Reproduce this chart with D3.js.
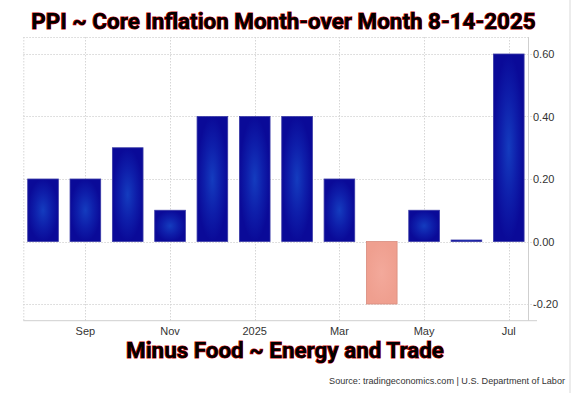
<!DOCTYPE html>
<html>
<head>
<meta charset="utf-8">
<script src="https://cdn.jsdelivr.net/npm/d3@7"></script>
<style>
  html, body { margin: 0; padding: 0; background: #fff; }
  svg { display: block; }
</style>
</head>
<body>
<div id="chart"></div>
<script>
const months = ["2024-08", "2024-09", "2024-10", "2024-11", "2024-12", "2025-01",
  "2025-02", "2025-03", "2025-04", "2025-05", "2025-06", "2025-07"];
const values = [0.2, 0.2, 0.3, 0.1, 0.4, 0.4, 0.4, 0.2, -0.2, 0.1, 0.0, 0.6];
const tickMonths = ["2024-09", "2024-11", "2025-01", "2025-03", "2025-05", "2025-07"];
const tickLabels = ["Sep", "Nov", "2025", "Mar", "May", "Jul"];
const yTicks = [-0.2, 0, 0.2, 0.4, 0.6];

const W = 577, H = 393;
const plot = { left: 23.3, right: 528.5, top: 37, bottom: 320.7 };

const data = months.map((m, i) => ({ month: m, value: values[i] }));

const svg = d3.select("#chart").append("svg")
  .attr("width", W)
  .attr("height", H);

const defs = svg.append("defs");

const blueGrad = defs.append("radialGradient")
  .attr("id", "blueGrad")
  .attr("cx", "50%").attr("cy", "50%").attr("r", "50%");
blueGrad.append("stop").attr("offset", "0%").attr("stop-color", "#143cbf");
blueGrad.append("stop").attr("offset", "55%").attr("stop-color", "#0e1eaa");
blueGrad.append("stop").attr("offset", "100%").attr("stop-color", "#0a0a98");

const redGrad = defs.append("radialGradient")
  .attr("id", "redGrad")
  .attr("cx", "50%").attr("cy", "50%").attr("r", "50%");
redGrad.append("stop").attr("offset", "0%").attr("stop-color", "#f3a99b");
redGrad.append("stop").attr("offset", "100%").attr("stop-color", "#ef9f8f");

const x = d3.scaleBand()
  .domain(months)
  .range([plot.left, plot.right])
  .paddingInner(0.276)
  .paddingOuter(0.104);

const y = d3.scaleLinear()
  .domain([-0.2, 0.6])
  .range([304, 54]);

// right edge strip
svg.append("rect")
  .attr("x", 569).attr("y", 0)
  .attr("width", 2).attr("height", H)
  .attr("fill", "#ececec");

// horizontal grid (runs a little past the right border, like ticks)
svg.append("g")
  .selectAll("line")
  .data(yTicks)
  .join("line")
  .attr("x1", plot.left)
  .attr("x2", 537)
  .attr("y1", d => Math.round(y(d)) + 0.5)
  .attr("y2", d => Math.round(y(d)) + 0.5)
  .attr("stroke", "#d6d6d6")
  .attr("stroke-dasharray", "1.5,1.5");

// vertical grid
svg.append("g")
  .selectAll("line")
  .data(tickMonths)
  .join("line")
  .attr("x1", d => Math.round(x(d) + x.bandwidth() / 2) + 0.5)
  .attr("x2", d => Math.round(x(d) + x.bandwidth() / 2) + 0.5)
  .attr("y1", plot.top)
  .attr("y2", plot.bottom)
  .attr("stroke", "#d6d6d6")
  .attr("stroke-dasharray", "1.5,1.5");

// frame
svg.append("line")
  .attr("x1", plot.left).attr("x2", plot.right)
  .attr("y1", plot.top + 0.5).attr("y2", plot.top + 0.5)
  .attr("stroke", "#d6d6d6").attr("stroke-dasharray", "1.5,1.5");
svg.append("line")
  .attr("x1", plot.left + 0.5).attr("x2", plot.left + 0.5)
  .attr("y1", plot.top).attr("y2", plot.bottom)
  .attr("stroke", "#d6d6d6").attr("stroke-dasharray", "1.5,1.5");
svg.append("line")
  .attr("x1", plot.right).attr("x2", plot.right)
  .attr("y1", plot.top).attr("y2", plot.bottom)
  .attr("stroke", "#cfcfcf");
svg.append("line")
  .attr("x1", plot.left).attr("x2", 537)
  .attr("y1", plot.bottom).attr("y2", plot.bottom)
  .attr("stroke", "#cfcfcf");

// bars
svg.append("g")
  .selectAll("rect")
  .data(data)
  .join("rect")
  .attr("x", d => x(d.month))
  .attr("width", x.bandwidth())
  .attr("y", d => Math.min(y(d.value), y(0)) - (d.value === 0 ? 1.5 : 0))
  .attr("height", d => Math.max(Math.abs(y(d.value) - y(0)), 1.5))
  .attr("fill", d => d.value < 0 ? "url(#redGrad)" : "url(#blueGrad)")
  .attr("stroke", d => d.value < 0 ? "#d98c7e" : "#3a3aa6")
  .attr("stroke-width", 0.8);

// y labels (right side)
svg.append("g")
  .selectAll("text")
  .data(yTicks)
  .join("text")
  .attr("x", 533)
  .attr("y", d => y(d) + 4)
  .style("font-family", "'Liberation Sans', Arial, sans-serif")
  .style("font-size", "11px")
  .style("fill", "#333")
  .text(d => d3.format(".2f")(d).replace("\u2212", "-"));

// x labels
svg.append("g")
  .selectAll("text")
  .data(tickMonths)
  .join("text")
  .attr("x", d => x(d) + x.bandwidth() / 2)
  .attr("y", 335)
  .attr("text-anchor", "middle")
  .style("font-family", "'Liberation Sans', Arial, sans-serif")
  .style("font-size", "11px")
  .style("fill", "#333")
  .text((d, i) => tickLabels[i]);

// title and subtitle, black with a thin red outline
function outlinedText(cx, baseline, size, str) {
  return svg.append("text")
    .attr("x", cx)
    .attr("y", baseline)
    .attr("text-anchor", "middle")
    .style("font-family", "Roboto, sans-serif")
    .style("font-weight", "700")
    .style("font-size", size + "px")
    .style("fill", "#000")
    .style("stroke", "#c40000")
    .style("stroke-width", "1.2px")
    .style("paint-order", "stroke")
    .text(str);
}

outlinedText(283.5, 29, 22.4, "PPI ~ Core Inflation Month-over Month 8-14-2025");
outlinedText(285, 358, 22.4, "Minus Food ~ Energy and Trade");

// source
svg.append("text")
  .attr("x", 565)
  .attr("y", 384)
  .attr("text-anchor", "end")
  .style("font-family", "'Liberation Sans', Arial, sans-serif")
  .style("font-size", "9.1px")
  .style("fill", "#333")
  .text("Source: tradingeconomics.com | U.S. Department of Labor");
</script>
</body>
</html>
